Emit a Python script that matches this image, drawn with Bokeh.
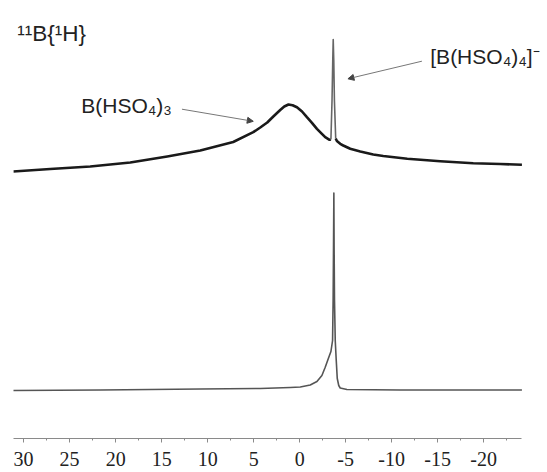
from bokeh.plotting import figure
from bokeh.models import Range1d, FixedTicker, Label, Arrow, NormalHead
from bokeh.embed import file_html
from bokeh.resources import INLINE

# 11B{1H} NMR spectra, chemical shift in ppm, intensity in arbitrary units
upper_ppm = [31.13, 27.11, 22.76, 18.41, 14.39, 10.80, 7.22, 5.04, 4.28, 3.52,
             2.86, 2.11, 1.67, 1.21, 0.77, 0.29, -0.26, -0.79, -1.34, -1.88,
             -2.42, -2.78, -3.25, -3.40, -3.52, -3.60, -3.65, -3.71, -3.78, -3.92,
             -4.05, -4.41, -4.74, -5.50, -6.59, -8.00, -9.09, -11.70, -12.78, -15.28,
             -18.87, -21.80, -24.16]
upper_int = [0, 2.5, 5, 9, 15, 21, 29.5, 39.3, 44, 49,
             55, 61.5, 65, 67, 66.3, 64.3, 60, 54.3, 48.7, 42.7,
             37.7, 34.3, 31.7, 32, 71, 111, 132, 111, 71, 33,
             30.5, 27.7, 26, 22.7, 20, 17, 15.5, 12.7, 12, 10.3,
             8.3, 7.5, 6.7]
SPIKE_START, SPIKE_END = 23, 29   # indices bounding the narrow line

lower_ppm = [31.17, 21.67, 10.80, 4.28, 1.02, -0.07, -1.15, -1.88, -2.42, -2.78,
             -3.14, -3.40, -3.58, -3.64, -3.68, -3.72, -3.75, -3.79, -3.87, -3.98,
             -4.09, -4.25, -4.41, -5.14, -10.93, -16.37, -24.16]
lower_int = [0, 0.5, 1.5, 2, 3, 3.5, 5.5, 9, 15, 23.3,
             32.5, 39, 50, 90, 140, 197.5, 140, 90, 50, 30,
             12, 5, 2.5, 1, 0.5, 0.5, 0.5]

tick_values = [30, 25, 20, 15, 10, 5, 0, -5, -10, -15, -20]
tick_labels = ["30", "25", "20", "15", "10", "5", "0", "-5", "-10", "-15", "-20"]
minor_values = [27.5, 22.5, 17.5, 12.5, 7.5, 2.5, -2.5, -7.5, -12.5, -17.5, -22.5]
axis_span = (-24.15, 31.1)

UPPER_OFFSET = 267
LOWER_OFFSET = 48

p = figure(width=547, height=472, output_backend="svg", toolbar_location=None,
           x_range=Range1d(31.1, -26.94), y_range=Range1d(0, 438),
           y_axis_location=None,
           min_border_left=13, min_border_right=0, min_border_top=0,
           min_border_bottom=34)
p.xgrid.visible = False
p.ygrid.visible = False
p.outline_line_color = None
p.background_fill_color = "white"
p.border_fill_color = "white"

up_y = [v + UPPER_OFFSET for v in upper_int]
p.line(upper_ppm[:SPIKE_START + 1], up_y[:SPIKE_START + 1],
       line_color="#1a1a1a", line_width=2.6, line_join="round")
p.line(upper_ppm[SPIKE_START:SPIKE_END + 1], up_y[SPIKE_START:SPIKE_END + 1],
       line_color="#666666", line_width=1.6, line_join="round")
p.line(upper_ppm[SPIKE_END:], up_y[SPIKE_END:],
       line_color="#1a1a1a", line_width=2.6, line_join="round")
p.line(lower_ppm, [v + LOWER_OFFSET for v in lower_int],
       line_color="#555555", line_width=1.6, line_join="round")

ax = p.xaxis[0]
ax.bounds = axis_span
ax.ticker = FixedTicker(ticks=tick_values, minor_ticks=minor_values)
ax.major_label_overrides = {t: s for t, s in zip(tick_values, tick_labels)}
ax.axis_line_color = "#8a8a8a"
ax.major_tick_line_color = "#8a8a8a"
ax.minor_tick_line_color = "#8a8a8a"
ax.major_tick_out = 4
ax.major_tick_in = 0
ax.minor_tick_out = 2
ax.minor_tick_in = 0
ax.major_label_text_font = "Liberation Serif"
ax.major_label_text_font_size = "20px"
ax.major_label_text_color = "#222222"
ax.major_label_standoff = 9

txt = dict(text_font="Liberation Sans", text_font_size="21px",
           text_color="#222222", text_baseline="alphabetic")
p.add_layout(Label(x=30.70, y=405, text="¹¹B{¹H}",
                   **{**txt, "text_font_size": "22.5px"}))
p.add_layout(Label(x=23.74, y=333, text="B(HSO₄)₃", **txt))
p.add_layout(Label(x=-14.20, y=382, text="[B(HSO₄)₄]⁻", **txt))

p.add_layout(Arrow(end=NormalHead(size=6, fill_color="#444444", line_color="#444444"),
                   x_start=12.79, y_start=329.3, x_end=5.04, y_end=317.2,
                   line_color="#777777", line_width=1))
p.add_layout(Arrow(end=NormalHead(size=6, fill_color="#444444", line_color="#444444"),
                   x_start=-13.29, y_start=377.3, x_end=-5.25, y_end=359.7,
                   line_color="#777777", line_width=1))

open("out.html", "w").write(file_html(p, INLINE))
